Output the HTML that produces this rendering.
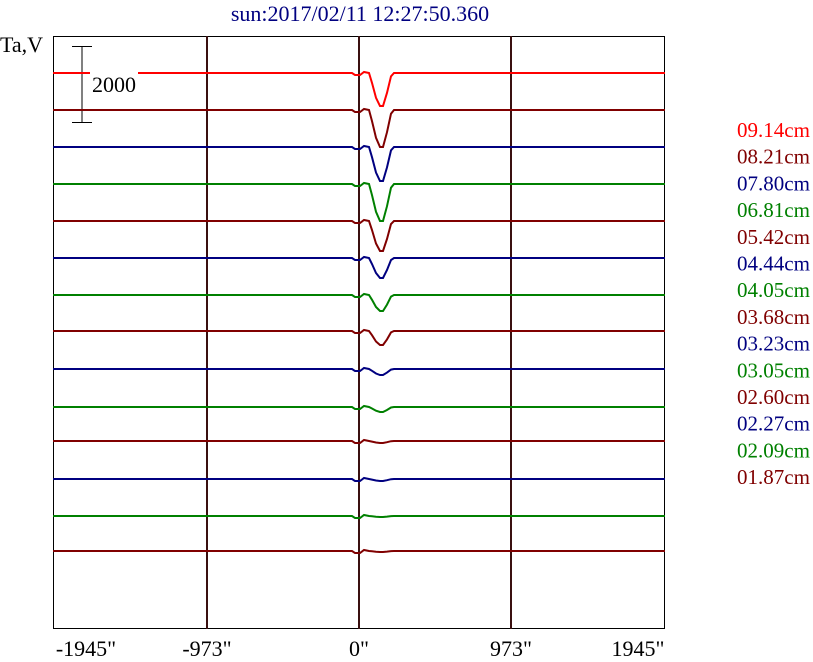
<!DOCTYPE html>
<html><head><meta charset="utf-8"><style>
body{margin:0;background:#fff;width:813px;height:662px;overflow:hidden}
svg{display:block}
text{font-family:"Liberation Serif",serif}
</style></head><body>
<svg id="s" width="813" height="662" xmlns="http://www.w3.org/2000/svg">
<text x="360" y="21" font-size="22" fill="#000080" text-anchor="middle">sun:2017/02/11 12:27:50.360</text>
<text x="0" y="52" font-size="22" fill="#000">Ta,V</text>
<rect x="53.5" y="36.5" width="611" height="592" fill="none" stroke="#000" stroke-width="1"/>
<g stroke="#3a1010" stroke-width="2">
<line x1="207" y1="36" x2="207" y2="629"/>
<line x1="359" y1="36" x2="359" y2="629"/>
<line x1="511" y1="36" x2="511" y2="629"/>
</g>
<g stroke="#000" stroke-width="1">
<line x1="82" y1="46.5" x2="82" y2="122.5"/>
<line x1="72" y1="46.5" x2="92" y2="46.5"/>
<line x1="72" y1="122.5" x2="92" y2="122.5"/>
</g>
<g id="tr" fill="none" stroke-width="2"></g>
<rect x="90" y="70" width="48" height="22" fill="#fff"/>
<text x="92" y="92" font-size="22" fill="#000">2000</text>
<g font-size="22" fill="#000" text-anchor="middle">
<text x="86" y="656">-1945"</text>
<text x="207" y="656">-973"</text>
<text x="359" y="656">0"</text>
<text x="511" y="656">973"</text>
<text x="638" y="656">1945"</text>
</g>
<g id="lg" font-size="21"></g>
</svg>
<script>
var R="#ff0000",D="#800000",B="#000080",G="#008000";
var cols=[R,D,B,G,D,B,G,D,B,G,D,B,G,D];
var ys=[73,110,147,184,221,258,295,331,369,407,441,479,516,551];
var dep=[33,37,34,37,30,20,16,14,6,5,2,2,1,1];
var labs=["09.14cm","08.21cm","07.80cm","06.81cm","05.42cm","04.44cm","04.05cm","03.68cm","03.23cm","03.05cm","02.60cm","02.27cm","02.09cm","01.87cm"];
var tr=document.getElementById("tr"),lg=document.getElementById("lg");
var ns="http://www.w3.org/2000/svg";
for(var i=0;i<14;i++){
 var y=ys[i],d=dep[i];
 var p="M53 "+y+" L352 "+y+" L355 "+(y+2)+" L360 "+(y+2)+" L364 "+(y-1)+" L369 "+y+" L372 "+(y+d*0.3)+" L376 "+(y+d*0.75)+" L380 "+(y+d)+" L383 "+(y+d)+" L387 "+(y+d*0.6)+" L391 "+(y+d*0.1)+" L394 "+y+" L665 "+y;
 var e=document.createElementNS(ns,"path");e.setAttribute("d",p);e.setAttribute("stroke",cols[i]);tr.appendChild(e);
 var t=document.createElementNS(ns,"text");t.setAttribute("x",737);t.setAttribute("y",137+i*26.7);t.setAttribute("fill",cols[i]);t.textContent=labs[i];lg.appendChild(t);
}
</script>
</body></html>
